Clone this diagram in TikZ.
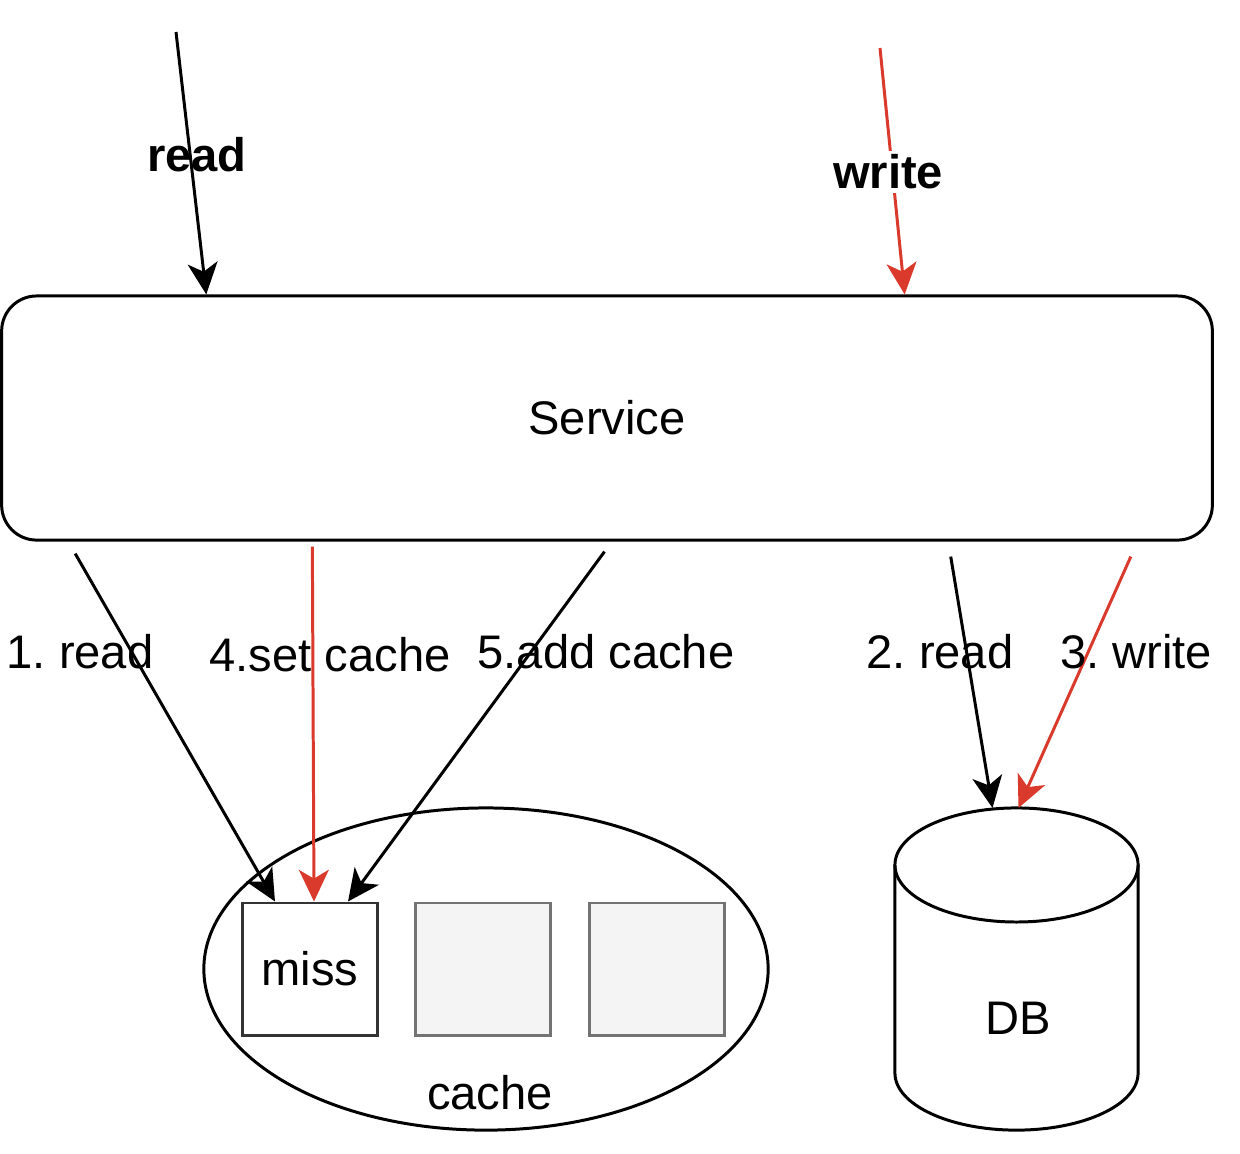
\documentclass[tikz,border=0pt]{standalone}
\usepackage{fontspec}
\setmainfont{Liberation Sans}
\usetikzlibrary{arrows.meta,shapes.geometric}
\definecolor{linkred}{HTML}{D93A2B}
\definecolor{slotgray}{HTML}{F4F4F4}
\frenchspacing
\begin{document}
\begin{tikzpicture}[
        x=0.01cm, y=-0.01cm,
        font=\fontsize{13.4}{16}\selectfont,
        line width=0.85pt,
        flow/.style={line width=0.85pt,-{Stealth[length=9pt,width=8.5pt,inset=2.5pt]}},
        redflow/.style={flow,draw=linkred},
        servicebox/.style={draw,rounded corners=0.35cm,minimum width=12.1cm,minimum height=2.44cm},
        slot/.style={draw=black!55,fill=slotgray,minimum width=1.35cm,minimum height=1.32cm,inner sep=0pt},
        steplabel/.style={inner sep=1pt}
    ]
    \useasboundingbox (0,0) rectangle (1240,1153);
    % boxes
    \node[servicebox] (service) at (607,418) {Service};
    \node[draw,ellipse,minimum width=5.64cm,minimum height=3.22cm] (cache) at (486,969) {};
    \node at (490,1093) (cachelabel) {cache};
    \node[slot,draw=black!80,fill=white] (miss) at (310,969) {miss};
    \node[slot] (slottwo) at (483,969) {};
    \node[slot] (slotthree) at (657,969) {};
    % database cylinder
    \node[minimum width=2.43cm,minimum height=3.22cm,inner sep=0pt,outer sep=0pt] (db) at (1016.5,969) {};
    \draw ([yshift=-0.57cm]db.north west) -- ([yshift=0.57cm]db.south west)
        arc[start angle=180,end angle=360,x radius=1.215cm,y radius=0.57cm]
        -- ([yshift=-0.57cm]db.north east);
    \draw ([yshift=-0.57cm]db.north) ellipse[x radius=1.215cm,y radius=0.57cm];
    \node (dblabel) at (1018,1018) {DB};
    % end points
    \coordinate (readin) at (176,32);
    \coordinate (writein) at (880,48);
    \coordinate (readtip) at ([xshift=2.06cm]service.north west);
    \coordinate (writetip) at ([xshift=9.04cm]service.north west);
    \coordinate (srcone) at ([xshift=0.75cm,yshift=-0.12cm]service.south west);
    \coordinate (srcfour) at ([xshift=3.12cm,yshift=-0.05cm]service.south west);
    \coordinate (srcfive) at ([xshift=6.04cm,yshift=-0.10cm]service.south west);
    \coordinate (srctwo) at ([xshift=9.50cm,yshift=-0.15cm]service.south west);
    \coordinate (srcthree) at ([xshift=11.30cm,yshift=-0.15cm]service.south west);
    % connectors
    \draw[flow] (readin) -- (readtip);
    \draw[redflow] (writein) -- (writetip);
    \draw[flow] (srcone) -- ([xshift=0.34cm]miss.north west);
    \draw[redflow] (srcfour) -- ([xshift=0.04cm]miss.north);
    \draw[flow] (srcfive) -- ([xshift=1.07cm]miss.north west);
    \draw[flow] (srctwo) -- ([xshift=-0.24cm]db.north);
    \draw[redflow] (srcthree) -- ([xshift=0.02cm]db.north);
    % labels
    \node[steplabel,font=\fontsize{13.4}{16}\selectfont\bfseries] (readlabel) at (197,155) {read};
    \node[steplabel,fill=white,font=\fontsize{13.4}{16}\selectfont\bfseries] (writelabel) at (888,172) {write};
    \node[steplabel] (oneread) at (80,652) {1. read};
    \node[steplabel] (fourset) at (330,655) {4.set cache};
    \node[steplabel] (fiveadd) at (606,652) {5.add cache};
    \node[steplabel] (tworead) at (940,652) {2. read};
    \node[steplabel] (threewrite) at (1136,652) {3. write};
\end{tikzpicture}
\end{document}
